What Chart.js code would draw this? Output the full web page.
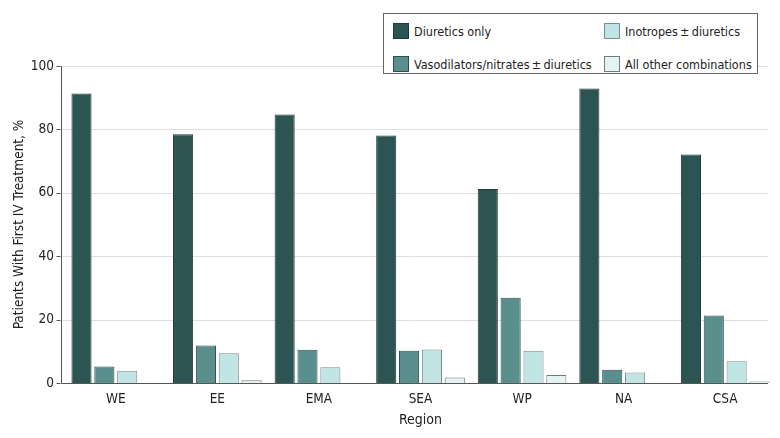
<!DOCTYPE html>
<html>
<head>
<meta charset="utf-8">
<script src="https://cdn.jsdelivr.net/npm/chart.js@4"></script>
<style>
  body { margin: 0; background: #fff; }
  .wrap { position: relative; width: 780px; height: 438px; }
  .legend {
    position: absolute; left: 383px; top: 13px; width: 373px; height: 59px;
    border: 1px solid #666; background: #fff;
    font-family: "Liberation Sans Narrow", "DejaVu Sans Condensed", Roboto, sans-serif;
    font-size: 12.5px; color: #222;
  }
  .legend .item { position: absolute; display: flex; align-items: center; white-space: nowrap; }
  .legend .swatch { width: 16px; height: 16px; border: 1px solid #444; margin-right: 5px; box-sizing: border-box; }
</style>
</head>
<body>
<div class="wrap">
  <canvas id="myChart" width="780" height="438"></canvas>
  <div class="legend" id="legend"></div>
</div>
<script>
const regions = ["WE", "EE", "EMA", "SEA", "WP", "NA", "CSA"];
const diureticsOnly = [91.3, 78.5, 84.7, 78.1, 61.2, 92.9, 72.1];
const vasodilators = [5.2, 11.8, 10.5, 10.2, 26.9, 4.2, 21.3];
const inotropes = [3.9, 9.4, 5.0, 10.6, 10.2, 3.3, 6.9];
const otherCombos = [0, 0.9, 0, 1.7, 2.5, 0, 0.5];

const seriesLabels = ["Diuretics only", "Vasodilators/nitrates\u2009±\u2009diuretics", "Inotropes\u2009±\u2009diuretics", "All other combinations"];
const fillColors = ["#2b5452", "#5a8f8d", "#c1e5e5", "#e6f3f3"];
const edgeColors = ["#1e3a39", "#2f4f4e", "#7d8c8c", "#6f7b7b"];
const yTicks = [0, 20, 40, 60, 80, 100];

const fontStack = '"Liberation Sans Narrow", "DejaVu Sans Condensed", Roboto, sans-serif';
const seriesData = [diureticsOnly, vasodilators, inotropes, otherCombos];

// axis lines and gridlines: the axes start a bit left of the first category band
// and stop at the end of the last bar, as in the original figure
const axisLines = {
  id: "axisLines",
  beforeDatasetsDraw(chart) {
    const c = chart.ctx;
    const y = chart.scales.y;
    const area = chart.chartArea;
    const x0 = area.left - 4.5;
    const x1 = area.right - 8;
    c.save();
    c.lineWidth = 1;
    yTicks.forEach(v => {
      const py = Math.round(y.getPixelForValue(v)) + 0.5;
      c.strokeStyle = "#dedede";
      c.beginPath(); c.moveTo(x0, py); c.lineTo(x1, py); c.stroke();
      c.strokeStyle = "#555";
      c.beginPath(); c.moveTo(x0 - 4, py); c.lineTo(x0, py); c.stroke();
    });
    c.strokeStyle = "#555";
    const yb = Math.round(y.getPixelForValue(0)) + 0.5;
    const yt = Math.round(y.getPixelForValue(100));
    c.beginPath(); c.moveTo(Math.round(x0) + 0.5, yt); c.lineTo(Math.round(x0) + 0.5, yb); c.lineTo(x1, yb); c.stroke();
    c.restore();
  }
};

const ctx = document.getElementById("myChart").getContext("2d");
const myChart = new Chart(ctx, {
  type: "bar",
  data: {
    labels: regions,
    datasets: seriesData.map((d, i) => ({
      label: seriesLabels[i],
      data: d,
      backgroundColor: fillColors[i],
      borderColor: edgeColors[i],
      borderWidth: 1,
      barPercentage: 0.88,
      categoryPercentage: 0.9
    }))
  },
  options: {
    responsive: false,
    animation: false,
    layout: { padding: { top: 66, right: 4, left: 7, bottom: 5 } },
    plugins: { legend: { display: false }, tooltip: { enabled: false } },
    scales: {
      x: {
        grid: { display: false, drawTicks: false },
        border: { display: false },
        ticks: { color: "#222", font: { family: fontStack, size: 13.5 }, padding: 8 },
        title: { display: true, text: "Region", color: "#222", font: { family: fontStack, size: 14 }, padding: { top: 0 } },
        afterFit: (scale) => { scale.height = 50; }
      },
      y: {
        min: 0,
        max: 100,
        afterBuildTicks: (scale) => { scale.ticks = yTicks.map(v => ({ value: v })); },
        grid: { display: false, drawTicks: false },
        border: { display: false },
        ticks: { color: "#222", font: { family: fontStack, size: 13.5 }, padding: 11 },
        title: { display: true, text: "Patients With First IV Treatment, %", color: "#222", font: { family: fontStack, size: 13.5 } },
        afterFit: (scale) => { scale.width = 58; }
      }
    }
  },
  plugins: [axisLines]
});

// legend built from the same labels and colours
const legendBox = document.getElementById("legend");
const legendSpots = [[9, 9], [9, 42], [220, 9], [220, 42]];
seriesLabels.forEach((lab, k) => {
  const item = document.createElement("div");
  item.className = "item";
  item.style.left = legendSpots[k][0] + "px";
  item.style.top = legendSpots[k][1] + "px";
  const sw = document.createElement("span");
  sw.className = "swatch";
  sw.style.background = fillColors[k];
  sw.style.borderColor = edgeColors[k];
  const tx = document.createElement("span");
  tx.textContent = lab;
  item.appendChild(sw);
  item.appendChild(tx);
  legendBox.appendChild(item);
});
</script>
</body>
</html>
